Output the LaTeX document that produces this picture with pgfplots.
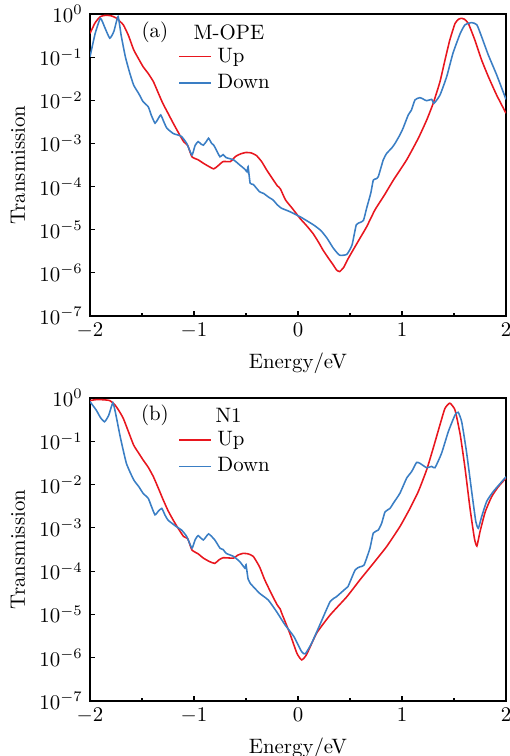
\documentclass[border=0pt]{standalone}
\usepackage{pgfplots}
\pgfplotsset{compat=1.18}
\definecolor{upred}{RGB}{232,22,30}
\definecolor{downblue}{RGB}{58,126,196}
\pgfplotsset{
  panel/.style={
    scale only axis, width=199.68pt,
    xmin=-2, xmax=2, ymin=1e-7, ymax=1,
    xtick={-2,-1,0,1,2}, minor xtick={-1.5,-0.5,0.5,1.5},
    ytick={1e-7,1e-6,1e-5,1e-4,1e-3,1e-2,1e-1,1}, yminorticks=false,
    tick align=inside, tick pos=left,
    major tick length=2.6pt, minor tick length=1.4pt,
    axis line style={line width=0.75pt},
    every tick/.style={line width=0.6pt, black},
    xlabel={Energy/eV}, ylabel={Transmission},
    every axis plot/.append style={line width=0.75pt},
    legend cell align=left,
    legend image code/.code={\draw[##1, sharp plot, line width=0.8pt] (0pt,0pt) -- (15.4pt,0pt);},
    legend style={draw=none, fill=none, inner sep=0pt, row sep=1.2pt,
      nodes={inner ysep=1.6pt, inner xsep=2.6pt},
      anchor=west},
  },
  curve/.style={line width=0.75pt, smooth, tension=0.3},
}
\begin{document}
\begin{tikzpicture}
% ---------------- panel (a)
\begin{semilogyaxis}[panel, height=144.96pt, at={(43.2pt,211.2pt)}, anchor=south west,
  legend style={at={(0.211,0.815)}}]
\addplot[upred, curve] coordinates {
(-2.00,0.355) (-1.95,0.631) (-1.90,0.871) (-1.85,0.933) (-1.80,0.912) (-1.75,0.813)
(-1.68,0.562) (-1.63,0.316) (-1.58,0.148) (-1.53,0.0891) (-1.49,0.0603) (-1.44,0.0417)
(-1.39,0.0269) (-1.34,0.0141) (-1.30,0.00851) (-1.25,0.00501) (-1.20,0.00295)
(-1.15,0.00178) (-1.10,0.00110) (-1.06,8.91e-4) (-1.02,4.90e-4) (-0.96,4.17e-4)
(-0.91,3.47e-4) (-0.86,2.95e-4) (-0.81,2.57e-4) (-0.77,3.02e-4) (-0.72,3.80e-4)
(-0.65,3.80e-4) (-0.60,5.01e-4) (-0.55,5.75e-4) (-0.50,6.17e-4) (-0.45,6.03e-4)
(-0.40,5.25e-4) (-0.35,3.80e-4) (-0.30,2.40e-4) (-0.25,1.58e-4) (-0.20,1.05e-4)
(-0.17,8.9e-5) (-0.12,4.90e-5) (-0.05,3.02e-5)
(0.02,1.82e-5) (0.08,1.26e-5) (0.145,8.13e-6) (0.20,5.01e-6) (0.24,3.39e-6)
(0.29,2.24e-6) (0.34,1.51e-6) (0.37,1.17e-6) (0.40,1.07e-6) (0.44,1.35e-6)
(0.48,2.09e-6) (0.53,3.39e-6) (0.60,6.61e-6) (0.66,1.17e-5) (0.74,2.88e-5)
(0.83,6.31e-5) (0.917,1.41e-4) (1.045,4.17e-4) (1.157,0.00132) (1.237,0.00347)
(1.30,0.00851) (1.365,0.0269) (1.413,0.0851) (1.46,0.251) (1.51,0.603)
(1.545,0.759) (1.574,0.794) (1.60,0.759) (1.638,0.603) (1.70,0.251) (1.766,0.0851)
(1.83,0.0355) (1.91,0.0132) (2.00,0.00501)
};
\addlegendentry{Up}
\addplot[downblue, curve] coordinates {
(-2.00,0.102) (-1.95,0.355) (-1.90,0.794) (-1.86,0.501) (-1.81,0.275) (-1.77,0.398)
(-1.73,0.871) (-1.70,0.316) (-1.66,0.102) (-1.62,0.0447) (-1.58,0.0224) (-1.53,0.0141)
(-1.49,0.00933) (-1.44,0.00708) (-1.41,0.00447) (-1.375,0.00295) (-1.35,0.00355)
(-1.32,0.00457) (-1.29,0.00316) (-1.26,0.00224) (-1.20,0.00170) (-1.16,0.00158)
(-1.12,0.00145) (-1.07,0.00100) (-1.02,5.37e-4) (-0.99,8.91e-4) (-0.96,0.00110)
(-0.93,9.55e-4) (-0.91,9.12e-4) (-0.88,0.00112) (-0.86,0.00132) (-0.83,0.00100)
(-0.81,9.12e-4) (-0.78,6.61e-4) (-0.75,4.90e-4) (-0.72,5.50e-4) (-0.69,4.68e-4)
(-0.62,4.17e-4) (-0.56,3.16e-4) (-0.51,2.51e-4) (-0.49,2.19e-4) (-0.48,2.88e-4)
(-0.46,1.20e-4) (-0.43,1.12e-4) (-0.37,7.59e-5) (-0.33,6.92e-5) (-0.28,5.62e-5)
(-0.24,4.90e-5) (-0.20,3.80e-5) (-0.16,3.16e-5) (-0.08,2.63e-5) (0.02,2.00e-5)
(0.15,1.29e-5) (0.22,9.55e-6) (0.28,6.31e-6) (0.34,3.72e-6) (0.40,2.57e-6)
(0.47,2.69e-6) (0.52,4.47e-6) (0.56,1.29e-5) (0.60,1.48e-5) (0.63,1.66e-5)
(0.66,3.16e-5) (0.70,7.08e-5) (0.724,1.41e-4) (0.75,1.51e-4) (0.772,1.70e-4)
(0.82,4.17e-4) (0.853,5.89e-4) (0.90,7.76e-4) (0.933,0.00100) (0.98,0.00158)
(1.01,0.00224) (1.06,0.00457) (1.09,0.00589) (1.125,0.0102) (1.173,0.0115)
(1.237,0.00977) (1.285,0.0105) (1.308,0.00851) (1.365,0.0132) (1.43,0.0355)
(1.49,0.123) (1.56,0.355) (1.606,0.562) (1.67,0.631) (1.72,0.562) (1.766,0.295)
(1.83,0.112) (1.91,0.0389) (2.00,0.0105)
};
\addlegendentry{Down}
\node at (rel axis cs:0.156,0.940) {(a)};
\node at (rel axis cs:0.334,0.940) {M-OPE};
\end{semilogyaxis}
% ---------------- panel (b)
\begin{semilogyaxis}[panel, height=145.44pt, at={(43.2pt,26.4pt)}, anchor=south west,
  legend style={at={(0.211,0.818)}}]
\addplot[upred, curve] coordinates {
(-2.00,0.871) (-1.95,0.912) (-1.88,0.912) (-1.81,0.871) (-1.76,0.692) (-1.72,0.501)
(-1.68,0.339) (-1.63,0.166) (-1.58,0.0813) (-1.53,0.0525) (-1.49,0.0372) (-1.44,0.0251)
(-1.39,0.0151) (-1.34,0.00794) (-1.295,0.00437) (-1.25,0.00251) (-1.20,0.00151)
(-1.15,9.55e-4) (-1.10,6.31e-4) (-1.06,5.62e-4) (-1.02,3.09e-4) (-0.96,2.51e-4)
(-0.91,2.00e-4) (-0.85,1.66e-4) (-0.80,1.51e-4) (-0.76,1.82e-4) (-0.72,2.04e-4)
(-0.62,2.00e-4) (-0.58,2.34e-4) (-0.53,2.57e-4) (-0.48,2.51e-4) (-0.43,2.19e-4)
(-0.37,1.26e-4) (-0.32,6.31e-5) (-0.25,2.82e-5) (-0.20,1.66e-5) (-0.17,1.32e-5)
(-0.16,1.12e-5) (-0.08,3.72e-6) (-0.01,1.26e-6) (0.035,8.91e-7) (0.08,1.15e-6)
(0.18,3.72e-6) (0.31,9.77e-6) (0.47,2.57e-5) (0.596,6.31e-5) (0.724,1.51e-4)
(0.853,3.72e-4) (0.98,0.00107) (1.077,0.00282) (1.157,0.00692) (1.237,0.0219)
(1.30,0.0692) (1.365,0.240) (1.413,0.575) (1.46,0.759) (1.51,0.525) (1.56,0.141)
(1.606,0.0240) (1.654,0.00282) (1.696,5.75e-4) (1.72,3.80e-4) (1.75,8.13e-4)
(1.80,0.00234) (1.862,0.00525) (1.926,0.00891) (2.00,0.0141)
};
\addlegendentry{Up}
\addplot[downblue, curve] coordinates {
(-2.00,0.822) (-1.94,0.525) (-1.90,0.355) (-1.86,0.282) (-1.82,0.398) (-1.78,0.776)
(-1.75,0.398) (-1.71,0.129) (-1.65,0.0309) (-1.58,0.0129) (-1.53,0.00891) (-1.49,0.00631)
(-1.44,0.00479) (-1.41,0.00316) (-1.375,0.00200) (-1.345,0.00240) (-1.31,0.00282)
(-1.28,0.00200) (-1.25,0.00151) (-1.17,0.00107) (-1.12,8.91e-4) (-1.07,6.31e-4)
(-1.02,3.39e-4) (-0.99,5.25e-4) (-0.96,6.61e-4) (-0.91,5.25e-4) (-0.86,7.24e-4)
(-0.80,5.25e-4) (-0.75,3.39e-4) (-0.72,3.16e-4) (-0.69,2.57e-4) (-0.62,2.19e-4)
(-0.56,1.66e-4) (-0.51,1.17e-4) (-0.50,1.41e-4) (-0.48,6.61e-5) (-0.46,5.25e-5)
(-0.37,3.09e-5) (-0.285,2.14e-5) (-0.205,1.15e-5) (-0.125,5.75e-6) (-0.04,3.09e-6)
(0.035,1.38e-6) (0.07,1.23e-6) (0.13,2.14e-6) (0.21,5.75e-6) (0.31,2.00e-5)
(0.37,2.57e-5) (0.45,3.80e-5) (0.48,4.37e-5) (0.55,1.07e-4) (0.596,1.26e-4)
(0.635,1.38e-4) (0.692,3.39e-4) (0.724,7.59e-4) (0.772,8.91e-4) (0.805,0.00129)
(0.837,0.00234) (0.885,0.00282) (0.917,0.00372) (0.98,0.00631) (1.045,0.0141)
(1.093,0.0200) (1.14,0.0324) (1.173,0.0309) (1.237,0.0245) (1.285,0.0263)
(1.317,0.0245) (1.38,0.0525) (1.445,0.166) (1.51,0.407) (1.54,0.468) (1.574,0.282)
(1.62,0.0575) (1.67,0.00692) (1.71,0.00138) (1.734,9.77e-4) (1.766,0.00182)
(1.814,0.00407) (1.878,0.00692) (2.00,0.0151)
};
\addlegendentry{Down}
\node at (rel axis cs:0.156,0.944) {(b)};
\node at (rel axis cs:0.333,0.944) {N1};
\end{semilogyaxis}
\pgfresetboundingbox
\path[use as bounding box] (0pt,0pt) rectangle (244.32pt,362.88pt);
\end{tikzpicture}
\end{document}
